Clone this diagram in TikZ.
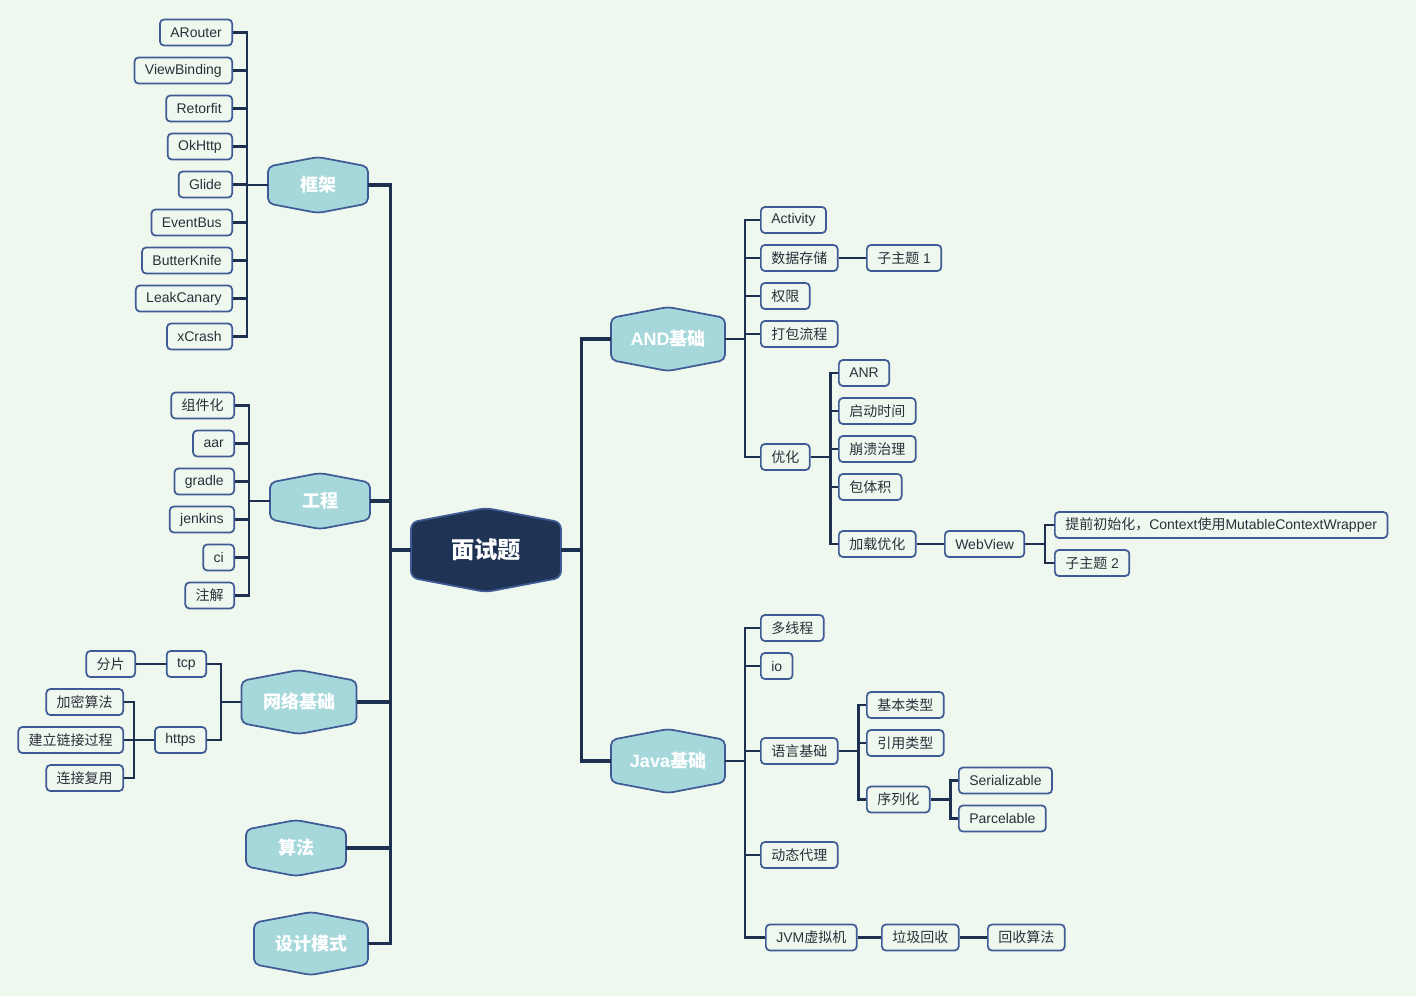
\documentclass[tikz,border=0pt]{standalone}
\usepackage{fontspec}
\setmainfont{Liberation Sans}
\newfontfamily\cjk{Noto Sans CJK SC}
\newcommand{\zh}[1]{{\cjk #1}}
\usepackage{tikz}
\definecolor{bgmint}{HTML}{EFF8EF}
\definecolor{linenavy}{HTML}{1E3050}
\definecolor{boxblue}{HTML}{3F5B95}
\definecolor{topicteal}{HTML}{A6D8DB}
\definecolor{rootnavy}{HTML}{1F3354}
\definecolor{leaftext}{HTML}{2B2F3A}
\tikzset{
  leafbox/.style={draw=boxblue,fill=bgmint,rounded corners=3pt,line width=1.3pt,
    inner xsep=7.8pt,inner ysep=0pt,minimum height=19.5pt,text=leaftext,
    font=\fontsize{10.5}{12}\selectfont},
  topicshape/.style={draw=boxblue,fill=topicteal,line width=1.3pt,rounded corners=4pt},
  topictext/.style={text=white,font=\bfseries\fontsize{13.5}{16}\selectfont,inner sep=0pt},
  rootshape/.style={draw=boxblue,fill=rootnavy,line width=1.3pt,rounded corners=5pt},
  roottext/.style={text=white,font=\bfseries\fontsize{17.5}{20}\selectfont,inner sep=0pt},
  trunk/.style={draw=linenavy,line width=2.3pt},
  branch/.style={draw=linenavy,line width=1.6pt}
}
% hexagon topic: style prefix, name, x, y, width, height, text
\newcommand{\hexnode}[7]{%
  \draw[#1shape] (#3-#5/2,#4-#6/2+#6*0.17) -- (#3,#4-#6/2) -- (#3+#5/2,#4-#6/2+#6*0.17)
    -- (#3+#5/2,#4+#6/2-#6*0.17) -- (#3,#4+#6/2) -- (#3-#5/2,#4+#6/2-#6*0.17) -- cycle;
  \node[#1text,minimum width={#5*0.75pt},minimum height={#6*0.75pt}] (#2) at (#3,#4) {#7};}

\begin{document}
\begin{tikzpicture}[x=0.75pt,y=-0.75pt]
  \fill[bgmint] (0,0) rectangle (1416,996);
  \useasboundingbox (0,0) rectangle (1416,996);

  % centre and first level
  \hexnode{root}{mianshi}{486}{550}{150}{84}{\zh{面试题}}
  \hexnode{topic}{kuangjia}{318}{185}{100}{56}{\zh{框架}}
  \hexnode{topic}{gongcheng}{320}{501}{100}{56}{\zh{工程}}
  \hexnode{topic}{wangluo}{299}{702}{115}{64}{\zh{网络基础}}
  \hexnode{topic}{suanfa}{296}{848}{100}{56}{\zh{算法}}
  \hexnode{topic}{sheji}{311}{943.5}{114}{63}{\zh{设计模式}}
  \hexnode{topic}{andbase}{668}{339}{114}{64}{AND\zh{基础}}
  \hexnode{topic}{javabase}{668}{761}{114}{64}{Java\zh{基础}}

  % 框架
  \node[leafbox,anchor=east] (arouter) at (233,32.5) {ARouter};
  \node[leafbox,anchor=east] (viewbinding) at (233,70.5) {ViewBinding};
  \node[leafbox,anchor=east] (retorfit) at (233,108.5) {Retorfit};
  \node[leafbox,anchor=east] (okhttp) at (233,146.5) {OkHttp};
  \node[leafbox,anchor=east] (glide) at (233,184.5) {Glide};
  \node[leafbox,anchor=east] (eventbus) at (233,222.5) {EventBus};
  \node[leafbox,anchor=east] (butterknife) at (233,260.5) {ButterKnife};
  \node[leafbox,anchor=east] (leakcanary) at (233,298.5) {LeakCanary};
  \node[leafbox,anchor=east] (xcrash) at (233,336.5) {xCrash};

  % 工程
  \node[leafbox,anchor=east] (zujian) at (235,405.5) {\zh{组件化}};
  \node[leafbox,anchor=east] (aar) at (235,443.5) {aar};
  \node[leafbox,anchor=east] (gradle) at (235,481.5) {gradle};
  \node[leafbox,anchor=east] (jenkins) at (235,519.5) {jenkins};
  \node[leafbox,anchor=east] (ci) at (235,557.5) {ci};
  \node[leafbox,anchor=east] (zhujie) at (235,595.5) {\zh{注解}};

  % 网络基础
  \node[leafbox,anchor=east] (tcp) at (207,664) {tcp};
  \node[leafbox,anchor=east] (https) at (207,740) {https};
  \node[leafbox,anchor=east] (fenpian) at (136,664) {\zh{分片}};
  \node[leafbox,anchor=east] (jiami) at (124,702) {\zh{加密算法}};
  \node[leafbox,anchor=east] (jianli) at (124,740) {\zh{建立链接过程}};
  \node[leafbox,anchor=east] (fuyong) at (124,778) {\zh{连接复用}};

  % AND基础
  \node[leafbox,anchor=west] (activity) at (760,220) {Activity};
  \node[leafbox,anchor=west] (cunchu) at (760,258) {\zh{数据存储}};
  \node[leafbox,anchor=west] (zizhuti1) at (866,258) {\zh{子主题} 1};
  \node[leafbox,anchor=west] (quanxian) at (760,296) {\zh{权限}};
  \node[leafbox,anchor=west] (dabao) at (760,334) {\zh{打包流程}};
  \node[leafbox,anchor=west] (youhua) at (760,457) {\zh{优化}};
  \node[leafbox,anchor=west] (anr) at (838,373) {ANR};
  \node[leafbox,anchor=west] (qidong) at (838,411) {\zh{启动时间}};
  \node[leafbox,anchor=west] (bengkui) at (838,449) {\zh{崩溃治理}};
  \node[leafbox,anchor=west] (baotiji) at (838,487) {\zh{包体积}};
  \node[leafbox,anchor=west] (jiazai) at (838,544) {\zh{加载优化}};
  \node[leafbox,anchor=west] (webview) at (944,544) {WebView};
  \node[leafbox,anchor=west] (tiqian) at (1054,525) {\zh{提前初始化，}Context\zh{使用}MutableContextWrapper};
  \node[leafbox,anchor=west] (zizhuti2) at (1054,563) {\zh{子主题} 2};

  % Java基础
  \node[leafbox,anchor=west] (duoxian) at (760,628) {\zh{多线程}};
  \node[leafbox,anchor=west] (io) at (760,666) {io};
  \node[leafbox,anchor=west] (yuyan) at (760,751) {\zh{语言基础}};
  \node[leafbox,anchor=west] (jiben) at (866,705) {\zh{基本类型}};
  \node[leafbox,anchor=west] (yinyong) at (866,743) {\zh{引用类型}};
  \node[leafbox,anchor=west] (xulie) at (866,799.5) {\zh{序列化}};
  \node[leafbox,anchor=west] (serial) at (958,780.5) {Serializable};
  \node[leafbox,anchor=west] (parcel) at (958,818.5) {Parcelable};
  \node[leafbox,anchor=west] (dongtai) at (760,855) {\zh{动态代理}};
  \node[leafbox,anchor=west] (jvm) at (765,937.5) {JVM\zh{虚拟机}};
  \node[leafbox,anchor=west] (laji) at (881,937.5) {\zh{垃圾回收}};
  \node[leafbox,anchor=west] (huishou) at (987,937.5) {\zh{回收算法}};

  % connectors
  \foreach \t in {kuangjia,gongcheng,wangluo,suanfa,sheji}
    \draw[trunk] (mianshi.west) -- ++(-20,0) |- (\t.east);
  \foreach \t in {andbase,javabase}
    \draw[trunk] (mianshi.east) -- ++(20,0) |- (\t.west);

  \foreach \n in {arouter,viewbinding,retorfit,okhttp,glide,eventbus,butterknife,leakcanary,xcrash}
    \draw[branch] (kuangjia.west) -- ++(-21,0) |- (\n.east);
  \foreach \n in {zujian,aar,gradle,jenkins,ci,zhujie}
    \draw[branch] (gongcheng.west) -- ++(-21,0) |- (\n.east);
  \foreach \n in {tcp,https}
    \draw[branch] (wangluo.west) -- ++(-20,0) |- (\n.east);
  \draw[branch] (tcp.west) -- (fenpian.east);
  \foreach \n in {jiami,jianli,fuyong}
    \draw[branch] (https.west) -- ++(-20,0) |- (\n.east);

  \foreach \n in {activity,cunchu,quanxian,dabao,youhua}
    \draw[branch] (andbase.east) -- ++(20,0) |- (\n.west);
  \draw[branch] (cunchu.east) -- (zizhuti1.west);
  \foreach \n in {anr,qidong,bengkui,baotiji,jiazai}
    \draw[branch] (youhua.east) -- ++(20,0) |- (\n.west);
  \draw[branch] (jiazai.east) -- (webview.west);
  \foreach \n in {tiqian,zizhuti2}
    \draw[branch] (webview.east) -- ++(20,0) |- (\n.west);

  \foreach \n in {duoxian,io,yuyan,dongtai,jvm}
    \draw[branch] (javabase.east) -- ++(20,0) |- (\n.west);
  \foreach \n in {jiben,yinyong,xulie}
    \draw[branch] (yuyan.east) -- ++(20,0) |- (\n.west);
  \foreach \n in {serial,parcel}
    \draw[branch] (xulie.east) -- ++(20,0) |- (\n.west);
  \draw[branch] (jvm.east) -- (laji.west);
  \draw[branch] (laji.east) -- (huishou.west);
\end{tikzpicture}
\end{document}
